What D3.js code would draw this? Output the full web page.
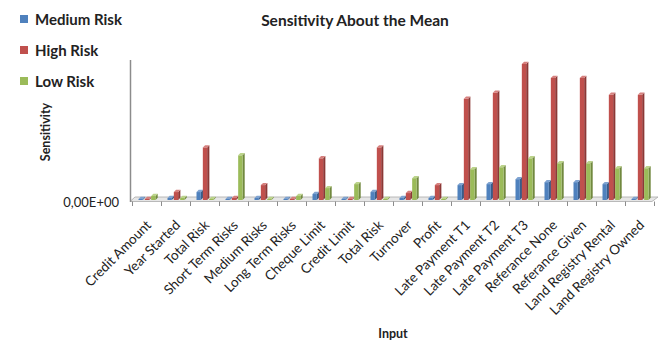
<!DOCTYPE html>
<html>
<head>
<meta charset="utf-8">
<script src="https://cdn.jsdelivr.net/npm/d3@7"></script>
<style>
  body { margin: 0; background: white; }
  text { font-family: Lato, "Open Sans", sans-serif; fill: #222; }
</style>
</head>
<body>
<script>
var categories = ["Credit Amount", "Year Started", "Total Risk", "Short Term Risks", "Medium Risks",
  "Long Term Risks", "Cheque Limit", "Credit Limit", "Total Risk ", "Turnover", "Profit",
  "Late Payment T1", "Late Payment T2", "Late Payment T3", "Referance None", "Referance Given",
  "Land Registry Rental", "Land Registry Owned"];
var seriesNames = ["Medium Risk", "High Risk", "Low Risk"];
var mediumRisk = [0.01, 0.02, 0.08, 0.01, 0.02, 0.00, 0.06, 0.00, 0.08, 0.02, 0.02, 0.15, 0.16, 0.21, 0.18, 0.18, 0.16, 0.01];
var highRisk   = [0.01, 0.08, 0.53, 0.02, 0.15, 0.00, 0.42, 0.00, 0.53, 0.07, 0.15, 1.02, 1.08, 1.37, 1.23, 1.23, 1.06, 1.06];
var lowRisk    = [0.04, 0.02, 0.00, 0.45, 0.00, 0.04, 0.12, 0.16, 0.00, 0.22, 0.00, 0.31, 0.33, 0.42, 0.37, 0.37, 0.32, 0.32];
var yTicks = [0];

var colors = ["#4F81BD", "#C0504D", "#9BBB59"];
var sideColors = ["#385D8A", "#8C3836", "#71893F"];
var topColors = ["#7FA3D1", "#D6807E", "#BBD38A"];
var values = [mediumRisk, highRisk, lowRisk];

var svg = d3.select("body").append("svg")
    .attr("width", 666)
    .attr("height", 342)

var x = d3.scaleBand().domain(categories).range([132.5, 654.5])
var xs = d3.scaleBand().domain(seriesNames).range([6, 25])
var y = d3.scaleLinear().domain([0, 1.4]).range([200, 61])

// floor
svg.append("polygon")
    .attr("points", [[130, 201.5], [652, 201.5], [658, 197], [135, 197]].map(p => p.join(",")).join(" "))
    .attr("fill", "#e6e6e6")
    .attr("stroke", "#aaa")
    .attr("stroke-width", 0.8)

// y axis line
svg.append("line")
    .attr("x1", 130.5).attr("x2", 130.5)
    .attr("y1", 60).attr("y2", 202)
    .attr("stroke", "#8c8c8c")
    .attr("stroke-width", 1.5)

// x ticks
svg.append("g").selectAll("line")
    .data(categories.concat(["end"]))
    .enter()
    .append("line")
    .attr("x1", (d, i) => 132.5 + i * x.step())
    .attr("x2", (d, i) => 132.5 + i * x.step())
    .attr("y1", 201.5).attr("y2", 206)
    .attr("stroke", "#8c8c8c")

// bars
var d = 2.2;
var bw = xs.bandwidth() - 2;
seriesNames.forEach(function(s, si) {
  var g = svg.append("g");
  values[si].forEach(function(v, i) {
    var x0 = x(categories[i]) + xs(s);
    var y0 = y(v), yb = y(0);
    if (yb - y0 < 1) y0 = yb - 1;
    g.append("polygon")
      .attr("points", [[x0 + bw, yb], [x0 + bw + d, yb - d], [x0 + bw + d, y0 - d], [x0 + bw, y0]].map(p => p.join(",")).join(" "))
      .attr("fill", sideColors[si]);
    g.append("rect")
      .attr("x", x0).attr("y", y0)
      .attr("width", bw).attr("height", yb - y0)
      .attr("fill", colors[si]);
    g.append("polygon")
      .attr("points", [[x0, y0], [x0 + bw, y0], [x0 + bw + d, y0 - d], [x0 + d, y0 - d]].map(p => p.join(",")).join(" "))
      .attr("fill", topColors[si]);
  });
});

// y tick label
svg.selectAll("text.ytick")
    .data(yTicks)
    .enter()
    .append("text")
    .attr("class", "ytick")
    .attr("x", 119)
    .attr("y", d => y(d) + 2)
    .attr("dy", "0.35em")
    .attr("text-anchor", "end")
    .style("font-size", "13px")
    .text(d => d3.format(".2f")(d).replace(".", ",") + "E+00")

// x labels
svg.append("g").selectAll("text")
    .data(categories)
    .enter()
    .append("text")
    .attr("transform", d => "translate(" + (x(d) + x.bandwidth() / 2 + 5) + ",226) rotate(-45)")
    .attr("text-anchor", "end")
    .style("font-size", "13.5px")
    .text(d => d.trim())

// titles
svg.append("text")
    .attr("x", 355).attr("y", 26)
    .attr("text-anchor", "middle")
    .style("font-size", "15.5px")
    .style("font-weight", "bold")
    .text("Sensitivity About the Mean")

svg.append("text")
    .attr("transform", "translate(50,132) rotate(-90)")
    .attr("text-anchor", "middle")
    .style("font-size", "12.5px")
    .style("font-weight", "bold")
    .text("Sensitivity")

svg.append("text")
    .attr("x", 393).attr("y", 338)
    .attr("text-anchor", "middle")
    .style("font-size", "12.5px")
    .style("font-weight", "bold")
    .text("Input")

// legend
var legend = svg.append("g").selectAll("g")
    .data(seriesNames)
    .enter()
    .append("g")
    .attr("transform", (d, i) => "translate(20," + (15 + i * 31) + ")")
legend.append("rect")
    .attr("width", 8).attr("height", 8)
    .attr("fill", (d, i) => colors[i])
legend.append("text")
    .attr("x", 15).attr("y", 9.5)
    .style("font-size", "15px")
    .style("font-weight", "bold")
    .text(d => d)
</script>
</body>
</html>
